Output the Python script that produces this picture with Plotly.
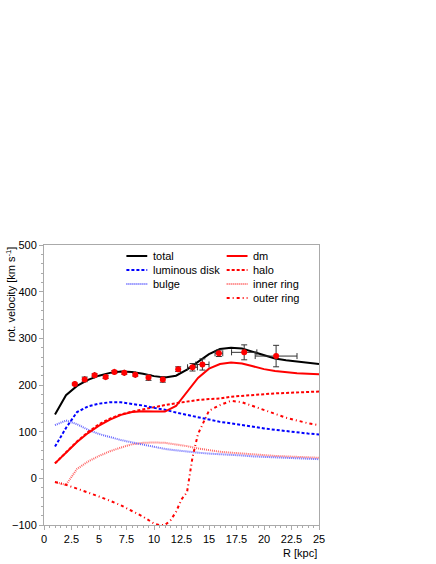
import plotly.graph_objects as go

# model curves, sampled every kpc
r_model = list(range(1, 26))
total = [137, 178, 198, 211, 220, 226, 229, 228, 224, 219, 216, 220, 233, 250, 266,
         277, 280, 278, 271, 263, 257, 253, 250, 247, 245]
lum_disk = [68, 108, 142, 154, 160, 163, 163, 160, 156, 151, 147, 141, 136, 130, 125,
            121, 118, 114, 110, 107, 104, 101, 99, 96, 94]
bulge = [114, 124, 116, 104, 95, 88, 82, 77, 72, 67, 63, 60, 57, 55, 53,
         52, 50, 49, 47, 46, 45, 44, 43, 42, 41]
dm = [32, 55, 78, 97, 113, 126, 136, 142, 144, 143, 143, 155, 185, 215, 235,
      245, 248, 246, 240, 234, 230, 227, 225, 224, 223]
halo = [32, 55, 79, 99, 116, 128, 137, 143, 148, 153, 157, 161, 165, 168, 170,
        171, 175, 177, 179, 180, 182, 183, 184, 185, 186]
inner_ring = [-8, -14, 20, 36, 48, 58, 66, 73, 76, 77, 76, 73, 69, 64, 60,
              57, 55, 53, 51, 49, 48, 47, 46, 45, 44]

# outer ring needs finer sampling around the jump
r_outer = [1, 2, 3, 4, 5, 6, 7, 8, 9, 10, 10.5, 11, 11.5, 12, 12.5, 13, 13.5, 14, 14.5,
           15, 16, 17, 18, 19, 20, 21, 22, 23, 24, 25]
outer_ring = [-8, -14, -22, -30, -39, -48, -58, -70, -82, -97, -100, -100, -90, -72, -45,
              -30, 45, 95, 120, 145, 157, 166, 163, 155, 146, 138, 130, 124, 118, 114]

# observed rotation curve
r_obs = [2.8, 3.7, 4.6, 5.6, 6.4, 7.3, 8.3, 9.5, 10.8, 12.2, 13.5, 14.4, 15.9, 18.2, 21.1]
v_obs = [202, 212, 221, 217, 228, 226, 222, 216, 212, 234, 238, 244, 268, 270, 262]
v_err = [2, 5, 3, 3, 3, 3, 3, 6, 6, 5, 8, 12, 7, 16, 23]
r_err = [0, 0, 0, 0, 0, 0, 0, 0, 0, 0, 0.45, 0.6, 0.35, 1.15, 1.9]

BLUE = '#0000ff'
RED = '#ff0000'
styles = {
    'total': dict(color='black', width=2),
    'luminous disk': dict(color=BLUE, width=2, dash='3px,2px'),
    'bulge': dict(color='#6666ff', width=2, dash='1px,1px'),
    'dm': dict(color=RED, width=2),
    'halo': dict(color=RED, width=2, dash='3px,2px'),
    'inner ring': dict(color='#ff6666', width=2, dash='1px,1px'),
    'outer ring': dict(color=RED, width=2, dash='3px,3px,1px,3px'),
}

fig = go.Figure()
for name, x, y in [('inner ring', r_model, inner_ring), ('bulge', r_model, bulge),
                   ('outer ring', r_outer, outer_ring), ('halo', r_model, halo),
                   ('luminous disk', r_model, lum_disk), ('dm', r_model, dm),
                   ('total', r_model, total)]:
    fig.add_trace(go.Scatter(x=x, y=y, mode='lines', name=name, line=styles[name],
                             showlegend=False))

fig.add_trace(go.Scatter(
    x=r_obs, y=v_obs, mode='markers', showlegend=False,
    marker=dict(color=RED, size=6),
    error_y=dict(type='data', array=v_err, color='#333333', thickness=1, width=3),
    error_x=dict(type='data', array=r_err, color='#333333', thickness=1, width=3),
))

# hand-made two-column legend (tight row spacing)
col1 = ['total', 'luminous disk', 'bulge']
col2 = ['dm', 'halo', 'inner ring', 'outer ring']
row_h = 14
for col, x0 in [(col1, 125), (col2, 226)]:
    for i, name in enumerate(col):
        ypx = 256 + i * row_h
        yp = 1 - (ypx - 245) / 280
        x0p = (x0 - 42) / 277
        x1p = (x0 + 21 - 42) / 277
        st = styles[name]
        fig.add_shape(type='line', xref='paper', yref='paper', x0=x0p, x1=x1p, y0=yp, y1=yp,
                      line=dict(color=st['color'], width=st['width'], dash=st.get('dash', 'solid')))
        fig.add_annotation(xref='paper', yref='paper', x=(x0 + 25 - 42) / 277, y=yp,
                           xanchor='left', yanchor='middle', text=name, showarrow=False,
                           font=dict(size=11, color='black'))

fig.add_annotation(xref='paper', yref='paper', x=0, y=1, xshift=-34, xanchor='center',
                   yanchor='top', textangle=-90, showarrow=False,
                   text='rot. velocity [km s<sup>-1</sup>]', font=dict(size=11, color='black'))
fig.add_annotation(xref='paper', yref='paper', x=1, y=0, yshift=-20, xanchor='right',
                   yanchor='top', showarrow=False, text='R [kpc]',
                   font=dict(size=11, color='black'))

axis_common = dict(showline=True, linecolor='#aaaaaa', linewidth=1, mirror=True,
                   showgrid=False, zeroline=False, ticks='outside', ticklen=4,
                   tickcolor='#aaaaaa', tickfont=dict(size=11, color='black'))
fig.update_xaxes(range=[0, 25], dtick=2.5, tick0=0,
                 minor=dict(ticks='outside', dtick=0.5, ticklen=2, tickcolor='#aaaaaa'),
                 **axis_common)
fig.update_yaxes(range=[-100, 500], dtick=100,
                 minor=dict(ticks='outside', dtick=20, ticklen=2, tickcolor='#aaaaaa'),
                 **axis_common)
fig.update_layout(width=436, height=564, margin=dict(l=42, r=117, t=245, b=39),
                  plot_bgcolor='white', paper_bgcolor='white',
                  font=dict(family='Liberation Sans, Arial', size=11, color='black'))
fig.write_html('out.html', config={'displayModeBar': False},
               post_script="document.body.style.margin = '0';")
